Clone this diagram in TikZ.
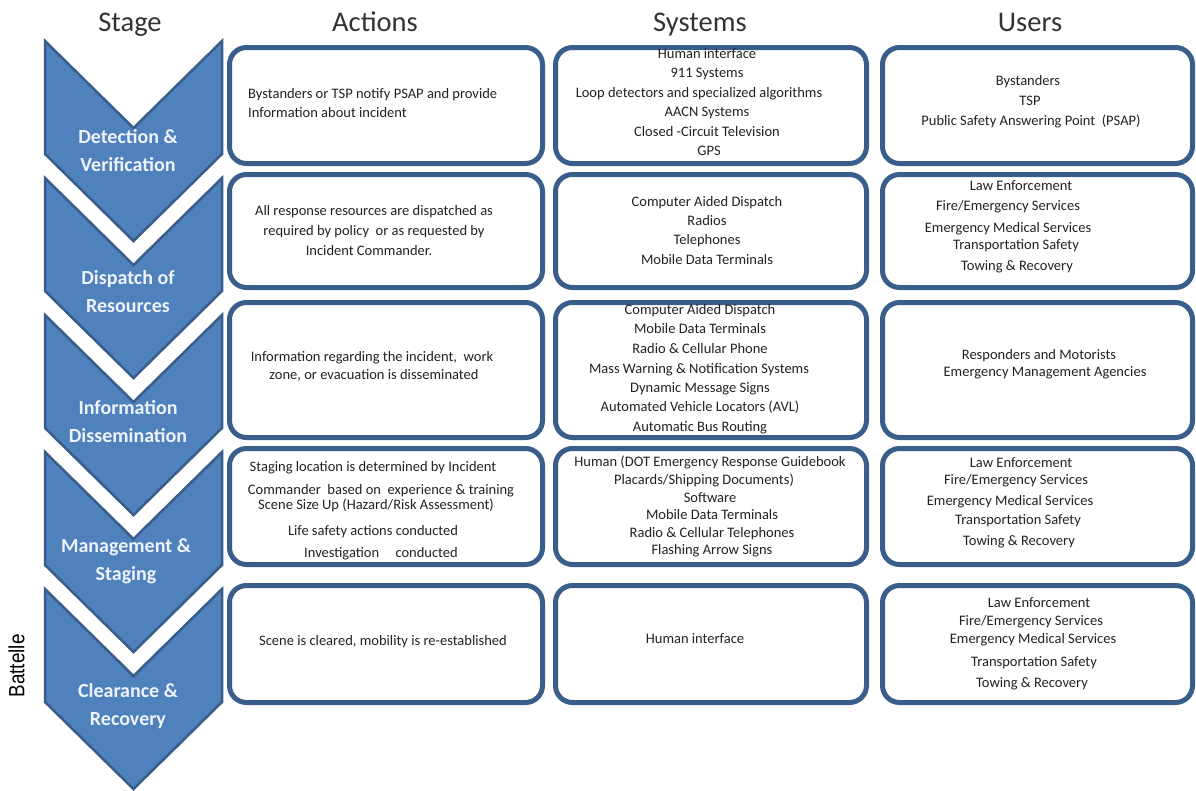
\documentclass[tikz,border=0pt]{standalone}
\usepackage{fontspec}
\setmainfont{Carlito}
\newfontfamily\arialfont{Liberation Sans}
\definecolor{chevfill}{HTML}{4F81BD}
\definecolor{chevline}{HTML}{385D8A}
\definecolor{boxline}{HTML}{3A5E8C}
\definecolor{textc}{HTML}{222222}
\definecolor{headc}{HTML}{333333}
\definecolor{labelc}{HTML}{EEF3FA}
\newcounter{tln}
% one centred line of text inside a box, placed on its baseline
\newcommand\lineat[3]{\stepcounter{tln}\node[txt] (l\arabic{tln}) at (#1,#2) {#3};}
% one left-aligned line of text
\newcommand\leftlineat[3]{\stepcounter{tln}\node[txt,anchor=base west] (l\arabic{tln}) at (#1,#2) {#3};}
% a stage chevron: notch depth n and tip depth t
\newcommand\chevron[2]{%
  \draw[chev] (45,#1-87) -- (133.5,#1) -- (222,#1-87) -- (222,#2-87) -- (133.5,#2) -- (45,#2-87) -- cycle;}
\begin{document}
\begin{tikzpicture}[x=1pt,y=-1pt,
  chev/.style={fill=chevfill,draw=chevline,line width=2.5pt,line join=miter},
  stagelabel/.style={text=labelc,align=center,font=\bfseries\fontsize{20}{28}\selectfont,inner sep=0pt},
  box/.style={draw=boxline,fill=white,line width=5pt,rounded corners=17pt,inner sep=0pt},
  txt/.style={font=\fontsize{14.5}{17}\selectfont,text=textc,inner sep=0pt,anchor=base},
  head/.style={font=\fontsize{28.5}{32}\selectfont,text=headc,inner sep=0pt,anchor=base}]
\useasboundingbox (0,0) rectangle (1196,790);
\fill[white] (0,0) rectangle (1196,790);

% column headings
\node[head] (hstage) at (130,31) {Stage};
\node[head] (hact) at (375,31) {Actions};
\node[head] (hsys) at (700,31) {Systems};
\node[head] (husr) at (1030,31) {Users};

% stage chevrons
\chevron{128}{241}
\chevron{265}{378}
\chevron{402}{515}
\chevron{539}{652}
\chevron{676}{789}
\node[stagelabel] (st1) at (128,151) {Detection \&\\Verification};
\node[stagelabel] (st2) at (128,292) {Dispatch of\\Resources};
\node[stagelabel] (st3) at (128,422) {Information\\Dissemination};
\node[stagelabel] (st4) at (126,561) {Management \&\\Staging};
\node[stagelabel] (st5) at (128,706) {Clearance \&\\Recovery};

\node[rotate=90,inner sep=0pt,text=black,font=\arialfont\fontsize{22}{24}\selectfont] (battelle) at (16.5,666) {\scalebox{0.86}[1]{Battelle}};

% boxes: columns x = [227,545] [553,869] [880,1195]
% rows y = [45,166] [172,290] [300,440] [446,567] [583,705]
\foreach \r/\ya/\yb in {1/45/166,2/172/290,3/300/440,4/446/567,5/583/705}{
  \foreach \c/\xa/\xb in {1/227/545,2/553/869,3/880/1195}{
    \node[box,minimum width={(\xb-\xa-5)*1pt},minimum height={(\yb-\ya-5)*1pt}]
      (b\r\c) at ({(\xa+\xb)/2},{(\ya+\yb)/2}) {};
  }
}

% row 1
\leftlineat{248}{98}{Bystanders or TSP notify PSAP and provide}
\leftlineat{248}{117}{Information about incident}
\lineat{707}{58}{Human interface}
\lineat{707}{77.5}{911 Systems}
\lineat{699}{97}{Loop detectors and specialized algorithms}
\lineat{707}{116.5}{AACN Systems}
\lineat{707}{136}{Closed -Circuit Television}
\lineat{709}{155.5}{GPS}
\lineat{1028}{85}{Bystanders}
\lineat{1030}{105}{TSP}
\lineat{1031}{125}{Public Safety Answering Point~~(PSAP)}

% row 2
\lineat{374}{215}{All response resources are dispatched as}
\lineat{374}{235}{required by policy~ or as requested by}
\lineat{369}{255}{Incident Commander.}
\lineat{707}{206}{Computer Aided Dispatch}
\lineat{707}{225}{Radios}
\lineat{707}{244}{Telephones}
\lineat{707}{264}{Mobile Data Terminals}
\lineat{1021}{190}{Law Enforcement}
\lineat{1008}{210}{Fire/Emergency Services}
\lineat{1008}{232}{Emergency Medical Services}
\lineat{1016}{249}{Transportation Safety}
\lineat{1017}{270}{Towing \& Recovery}

% row 3
\lineat{372}{361}{Information regarding the incident,~ work}
\lineat{374}{379}{zone, or evacuation is disseminated}
\lineat{700}{314}{Computer Aided Dispatch}
\lineat{700}{333}{Mobile Data Terminals}
\lineat{700}{353}{Radio \& Cellular Phone}
\lineat{699}{373}{Mass Warning \& Notification Systems}
\lineat{700}{392}{Dynamic Message Signs}
\lineat{700}{411}{Automated Vehicle Locators (AVL)}
\lineat{700}{431}{Automatic Bus Routing}
\lineat{1039}{359}{Responders and Motorists}
\lineat{1045}{376}{Emergency Management Agencies}

% row 4
\lineat{373}{471}{Staging location is determined by Incident}
\lineat{381}{494}{Commander~ based on~ experience \& training}
\lineat{376}{509}{Scene Size Up (Hazard/Risk Assessment)}
\lineat{373}{535}{Life safety actions conducted}
\lineat{381}{557}{Investigation~~~~ conducted}
\lineat{710}{466}{Human (DOT Emergency Response Guidebook}
\lineat{704}{484}{Placards/Shipping Documents)}
\lineat{710}{502}{Software}
\lineat{712}{519}{Mobile Data Terminals}
\lineat{712}{537}{Radio \& Cellular Telephones}
\lineat{712}{554}{Flashing Arrow Signs}
\lineat{1021}{467}{Law Enforcement}
\lineat{1016}{484}{Fire/Emergency Services}
\lineat{1010}{505}{Emergency Medical Services}
\lineat{1018}{524}{Transportation Safety}
\lineat{1019}{545}{Towing \& Recovery}

% row 5
\lineat{383}{645}{Scene is cleared, mobility is re-established}
\lineat{695}{643}{Human interface}
\lineat{1039}{607}{Law Enforcement}
\lineat{1031}{625}{Fire/Emergency Services}
\lineat{1033}{643}{Emergency Medical Services}
\lineat{1034}{666}{Transportation Safety}
\lineat{1032}{687}{Towing \& Recovery}
\end{tikzpicture}
\end{document}
